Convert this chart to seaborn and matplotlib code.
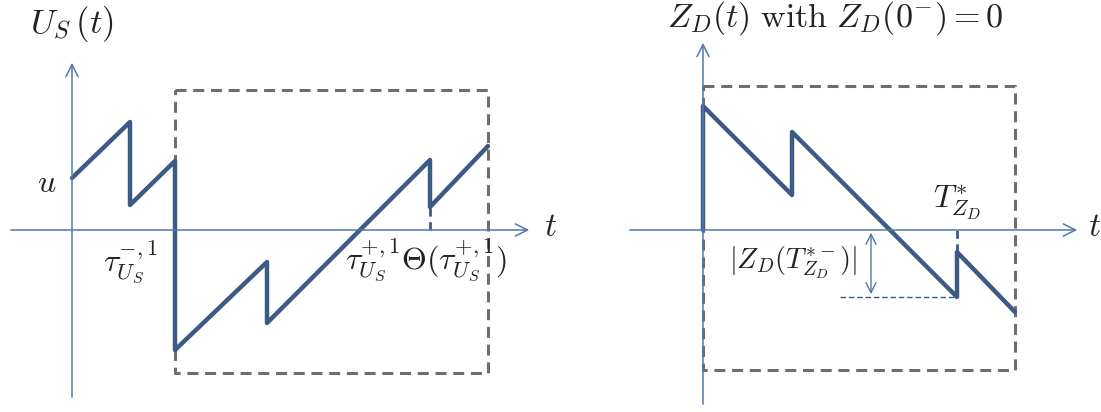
import seaborn as sns
import matplotlib.pyplot as plt
import pandas as pd

# left panel: U_S(t), piecewise path (jumps are vertical pieces)
us_t = [0, 5.8, 5.8, 10.3, 10.3, 19.5, 19.5, 35.8, 35.8, 41.6]
us_val = [5.2, 10.8, 2.5, 6.9, -12.0, -3.2, -9.3, 7.0, 2.3, 8.4]
us_box_t = [10.3, 41.6]
us_box_val = [-14.3, 14.0]
us_theta_t = 35.8

# right panel: Z_D(t) with Z_D(0-) = 0
zd_t = [0, 0, 8.9, 8.9, 25.4, 25.4, 31.2]
zd_val = [0, 12.4, 3.5, 9.8, -6.7, -2.2, -8.2]
zd_box_t = [0, 31.2]
zd_box_val = [-14.0, 14.4]
zd_tstar = 25.4
zd_level = -6.7

sns.set_theme(style='white')
plt.rcParams['mathtext.fontset'] = 'cm'
plt.rcParams['font.family'] = ['DejaVu Serif']

curve_c = '#3b5a84'
axis_c = '#5279aa'
box_c = '#6e6e6e'
txt_c = '#222222'

fig = plt.figure(figsize=(11.01, 4.12), dpi=100)
axl = fig.add_axes([0, 0, 560 / 1101, 1])
axr = fig.add_axes([560 / 1101, 0, 541 / 1101, 1])


def box_path(bt, bv):
    return pd.DataFrame({'t': [bt[0], bt[1], bt[1], bt[0], bt[0]],
                         'v': [bv[1], bv[1], bv[0], bv[0], bv[1]]})


def axes_arrows(ax, x0, x1, y0, y1):
    ax.annotate('', xy=(x1, 0), xytext=(x0, 0),
                arrowprops=dict(arrowstyle='->', color=axis_c, lw=1.1, mutation_scale=22))
    ax.annotate('', xy=(0, y1), xytext=(0, y0),
                arrowprops=dict(arrowstyle='->', color=axis_c, lw=1.1, mutation_scale=22))


# ---- left
axes_arrows(axl, -6.4, 46.0, -17.0, 17.0)
b = box_path(us_box_t, us_box_val)
sns.lineplot(data=b, x='t', y='v', ax=axl, sort=False, estimator=None,
             color=box_c, lw=2.2, linestyle=(0, (3.6, 2.2)))
axl.plot([us_theta_t, us_theta_t], [0, us_val[8]], color=curve_c, lw=2, linestyle=(0, (3, 2)))
sns.lineplot(x=us_t, y=us_val, ax=axl, sort=False, estimator=None, color=curve_c, lw=3.2)
axl.set_xlim(-7.2, 48.8)
axl.set_ylim(-18.2, 23.0)
axl.axis('off')

axl.text(0, 20.6, r'$U_S\,(t)$', fontsize=25, ha='center', va='center', color=txt_c)
axl.text(-2.5, 4.7, r'$u$', fontsize=23, ha='center', va='center', color=txt_c)
axl.text(47.9, 0.3, r'$t$', fontsize=24, ha='center', va='center', color=txt_c)
axl.text(5.8, -3.2, r'$\tau_{U_S}^{-,1}$', fontsize=23, ha='center', va='center', color=txt_c)
axl.text(35.4, -3.0, r'$\tau_{U_S}^{+,1}\Theta(\tau_{U_S}^{+,1})$', fontsize=23,
         ha='center', va='center', color=txt_c)

# ---- right
axes_arrows(axr, -7.6, 37.7, -17.7, 19.0)
b = box_path(zd_box_t, zd_box_val)
sns.lineplot(data=b, x='t', y='v', ax=axr, sort=False, estimator=None,
             color=box_c, lw=2.2, linestyle=(0, (3.6, 2.2)))
axr.plot([zd_tstar, zd_tstar], [0, zd_val[5]], color=curve_c, lw=2, linestyle=(0, (3, 2)))
axr.plot([13.7, zd_tstar], [zd_level, zd_level], color=curve_c, lw=1, linestyle=(0, (4, 2)))
axr.annotate('', xy=(16.8, zd_level), xytext=(16.8, 0),
             arrowprops=dict(arrowstyle='<->', color=axis_c, lw=1.0, mutation_scale=18))
sns.lineplot(x=zd_t, y=zd_val, ax=axr, sort=False, estimator=None, color=curve_c, lw=3.2)
axr.set_xlim(-14.3, 39.8)
axr.set_ylim(-18.2, 23.0)
axr.axis('off')

axr.text(13.2, 21.2, r'$Z_D(t)\ \mathrm{with}\ Z_D(0^{-})=0$', fontsize=24.5,
         ha='center', va='center', color=txt_c)
axr.text(39.2, 0.3, r'$t$', fontsize=24, ha='center', va='center', color=txt_c)
axr.text(25.4, 2.7, r'$T_{Z_D}^{*}$', fontsize=23, ha='center', va='center', color=txt_c)
axr.text(9.0, -3.3, r'$|Z_D(T_{Z_D}^{*-})|$', fontsize=20.5, ha='center', va='center', color=txt_c)

fig.savefig('out.png', dpi=100, facecolor='white')
